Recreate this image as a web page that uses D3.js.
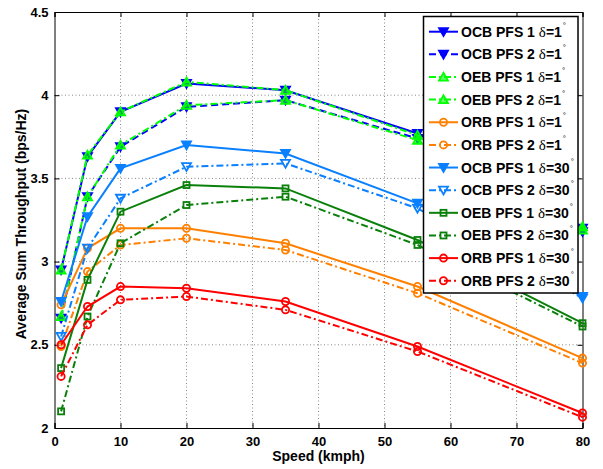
<!DOCTYPE html>
<html><head><meta charset="utf-8">
<script src="https://cdn.jsdelivr.net/npm/d3@7"></script>
<style>body{margin:0;background:#fff}</style>
</head><body>
<svg id="chart" width="603" height="469"></svg>
<script>
// ---- data ----
const speeds = [1, 5, 10, 20, 35, 55, 80];
const xTicks = [0, 10, 20, 30, 40, 50, 60, 70, 80];
const yTicks = [2, 2.5, 3, 3.5, 4, 4.5];
const yTickLabels = ["2", "2.5", "3", "3.5", "4", "4.5"];
const seriesNames = ["OCB PFS 1", "OCB PFS 2", "OEB PFS 1", "OEB PFS 2", "ORB PFS 1", "ORB PFS 2",
                     "OCB PFS 1", "OCB PFS 2", "OEB PFS 1", "OEB PFS 2", "ORB PFS 1", "ORB PFS 2"];
const seriesDelta = ["1","1","1","1","1","1","30","30","30","30","30","30"];
const ocb1_d1 = [2.95, 3.63, 3.90, 4.07, 4.03, 3.77, 3.20];
const ocb2_d1 = [2.66, 3.39, 3.69, 3.93, 3.97, 3.74, 3.18];
const oeb1_d1 = [2.95, 3.64, 3.90, 4.08, 4.03, 3.76, 3.21];
const oeb2_d1 = [2.67, 3.39, 3.70, 3.94, 3.97, 3.73, 3.19];
const orb1_d1 = [2.74, 3.08, 3.20, 3.20, 3.11, 2.85, 2.42];
const orb2_d1 = [2.49, 2.94, 3.10, 3.14, 3.07, 2.81, 2.39];
const ocb1_d30 = [2.76, 3.27, 3.56, 3.70, 3.65, 3.35, 2.79];
const ocb2_d30 = [2.55, 3.08, 3.38, 3.57, 3.59, 3.32, 2.78];
const oeb1_d30 = [2.36, 2.89, 3.30, 3.46, 3.44, 3.13, 2.63];
const oeb2_d30 = [2.10, 2.67, 3.11, 3.34, 3.39, 3.10, 2.61];
const orb1_d30 = [2.50, 2.73, 2.85, 2.84, 2.76, 2.49, 2.09];
const orb2_d30 = [2.31, 2.62, 2.77, 2.79, 2.71, 2.46, 2.065];
const seriesValues = [ocb1_d1, ocb2_d1, oeb1_d1, oeb2_d1, orb1_d1, orb2_d1,
                      ocb1_d30, ocb2_d30, oeb1_d30, oeb2_d30, orb1_d30, orb2_d30];

// ---- styles ----
const styles = [
  {c:"#0000ff", dash:null,      m:"down", fill:true},
  {c:"#0000ff", dash:"7,4",     m:"down", fill:true},
  {c:"#00ff00", dash:"7,3,2,3", m:"up",   fill:false},
  {c:"#00ff00", dash:"7,3,2,3", m:"up",   fill:false},
  {c:"#ff8000", dash:null,      m:"circle", fill:false},
  {c:"#ff8000", dash:"7,3,2,3", m:"circle", fill:false},
  {c:"#0a80ff", dash:null,      m:"down", fill:true},
  {c:"#0a80ff", dash:"7,3,2,3", m:"down", fill:false},
  {c:"#0a800a", dash:null,      m:"square", fill:false},
  {c:"#0a800a", dash:"7,3,2,3", m:"square", fill:false},
  {c:"#ff0000", dash:null,      m:"circle", fill:false},
  {c:"#ff0000", dash:"7,3,2,3", m:"circle", fill:false}
];

const svg = d3.select("#chart");
const L = 54.5, R = 582.5, T = 12, B = 428;
const x = d3.scaleLinear().domain([0, 80]).range([L, R]);
const y = d3.scaleLinear().domain([2, 4.5]).range([B, T]);
const FONT = "'Liberation Sans', Arial, sans-serif";

// grid
const grid = svg.append("g");
grid.selectAll(".gx").data(xTicks.slice(1, -1)).enter().append("line")
  .attr("x1", d => x(d)).attr("x2", d => x(d)).attr("y1", T).attr("y2", B)
  .attr("stroke", "#888").attr("stroke-width", 1).attr("stroke-dasharray", "1,2.5");
grid.selectAll(".gy").data(yTicks.slice(1, -1)).enter().append("line")
  .attr("y1", d => y(d)).attr("y2", d => y(d)).attr("x1", L).attr("x2", R)
  .attr("stroke", "#888").attr("stroke-width", 1).attr("stroke-dasharray", "1,2.5");

// axes
const xAxis = d3.axisBottom(x).tickValues(xTicks).tickSize(-5).tickPadding(9).tickFormat(d3.format("d"));
const yAxis = d3.axisLeft(y).tickValues(yTicks).tickSize(-5).tickPadding(6).tickFormat((d, i) => yTickLabels[i]);
const gx = svg.append("g").attr("transform", `translate(0,${B})`).call(xAxis);
const gy = svg.append("g").attr("transform", `translate(${L},0)`).call(yAxis);
const gxt = svg.append("g").attr("transform", `translate(0,${T})`).call(d3.axisTop(x).tickValues(xTicks).tickSize(-5).tickFormat(""));
const gyr = svg.append("g").attr("transform", `translate(${R},0)`).call(d3.axisRight(y).tickValues(yTicks).tickSize(-5).tickFormat(""));
[gx, gy, gxt, gyr].forEach(g => {
  g.select(".domain").attr("stroke", "#000").attr("stroke-width", 1);
  g.selectAll(".tick line").attr("stroke", "#000");
  g.selectAll("text").attr("font-family", FONT).attr("font-weight", "bold")
    .attr("font-size", 13).attr("fill", "#000");
});

// axis titles
svg.append("text").attr("x", (L + R) / 2).attr("y", 461).attr("text-anchor", "middle")
  .attr("font-family", FONT).attr("font-weight", "bold").attr("font-size", 14).text("Speed (kmph)");
svg.append("text").attr("transform", `translate(26,${(T + B) / 2 + 4}) rotate(-90)`).attr("text-anchor", "middle")
  .attr("font-family", FONT).attr("font-weight", "bold").attr("font-size", 14)
  .text("Average Sum Throughput (bps/Hz)");

// markers
function drawMarker(g, type, cx, cy, st) {
  const s = 4.5;
  let el;
  if (type === "down") {
    el = g.append("path").attr("d", `M${cx - s},${cy - s * 0.8}L${cx + s},${cy - s * 0.8}L${cx},${cy + s * 0.95}Z`);
  } else if (type === "up") {
    el = g.append("path").attr("d", `M${cx - s},${cy + s * 0.8}L${cx + s},${cy + s * 0.8}L${cx},${cy - s * 0.95}Z`);
  } else if (type === "circle") {
    el = g.append("circle").attr("cx", cx).attr("cy", cy).attr("r", 3.6);
  } else {
    el = g.append("rect").attr("x", cx - 3).attr("y", cy - 3).attr("width", 6).attr("height", 6);
  }
  el.attr("stroke", st.c).attr("stroke-width", 1.8)
    .attr("fill", st.fill ? st.c : (type === "up" ? st.c : "none"))
    .attr("fill-opacity", st.fill ? 1 : (type === "up" ? 0.6 : 0));
}

const line = d3.line().x((d, i) => x(speeds[i])).y(d => y(d));
seriesValues.forEach((vals, k) => {
  const st = styles[k];
  const g = svg.append("g");
  g.append("path").datum(vals).attr("d", line).attr("fill", "none")
    .attr("stroke", st.c).attr("stroke-width", 2)
    .attr("stroke-dasharray", st.dash);
  vals.forEach((v, i) => drawMarker(g, st.m, x(speeds[i]), y(v), st));
});

// legend
const lg = svg.append("g");
lg.append("rect").attr("x", 423.5).attr("y", 16.5).attr("width", 154.5).attr("height", 276.5)
  .attr("fill", "#fff").attr("stroke", "#000").attr("stroke-width", 1.5);
seriesNames.forEach((name, k) => {
  const st = styles[k];
  const cy = 31.7 + k * 22.64;
  lg.append("line").attr("x1", 429).attr("x2", 458).attr("y1", cy).attr("y2", cy)
    .attr("stroke", st.c).attr("stroke-width", 2).attr("stroke-dasharray", st.dash);
  drawMarker(lg, st.m, 443.5, cy, st);
  const t = lg.append("text").attr("x", 461).attr("y", cy + 5)
    .attr("font-family", FONT).attr("font-weight", "bold").attr("font-size", 14).attr("fill", "#000");
  t.append("tspan").text(name + " ");
  t.append("tspan").attr("font-family", "'Liberation Serif', 'Times New Roman', serif")
    .attr("font-weight", "normal").attr("font-size", 15).text("δ");
  t.append("tspan").text("=" + seriesDelta[k]);
  t.append("tspan").attr("font-size", 8).attr("font-weight", "normal").attr("dy", -9).attr("dx", 1).text("°");
});
</script>
</body></html>
